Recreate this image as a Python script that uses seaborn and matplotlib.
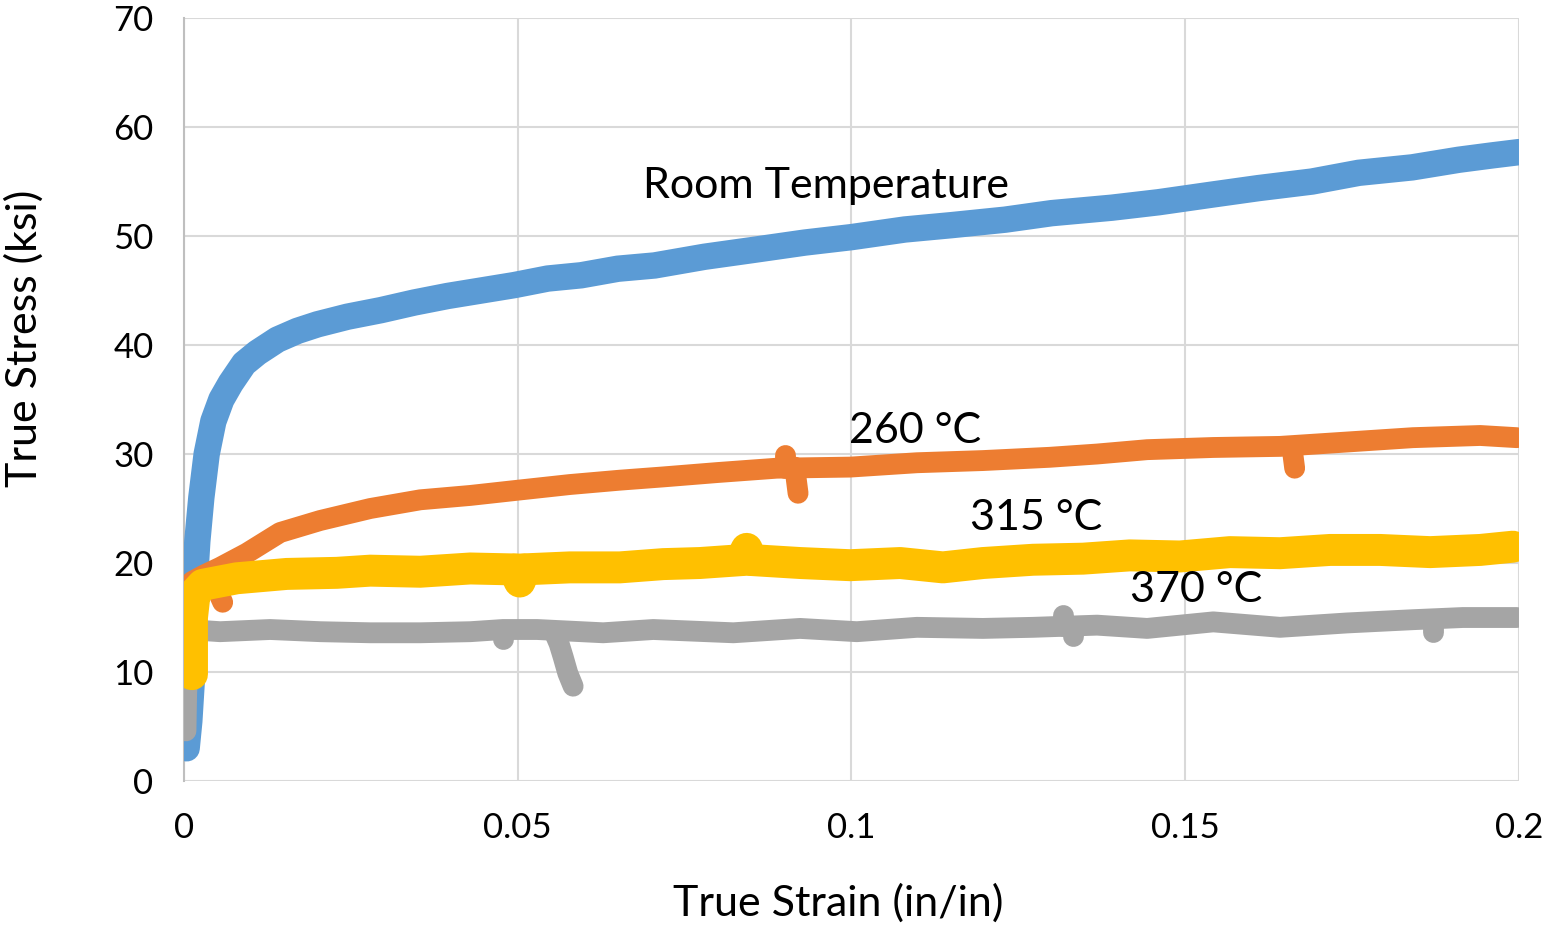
import matplotlib
matplotlib.use("Agg")
import matplotlib.pyplot as plt
import seaborn as sns
import pandas as pd

# ---------------- data ----------------
rt_strain = [0.0004, 0.0008, 0.0012, 0.0014, 0.0016, 0.0020, 0.0026, 0.0034, 0.0044,
             0.0056, 0.0070, 0.0090, 0.0110, 0.0140, 0.0170, 0.0200, 0.0245, 0.0295,
             0.0345, 0.0395, 0.0445, 0.0495, 0.0545, 0.0595, 0.0650, 0.0705, 0.0780,
             0.0850, 0.0930, 0.1000, 0.1080, 0.1150, 0.1230, 0.1300, 0.1390, 0.1460,
             0.1540, 0.1610, 0.1690, 0.1760, 0.1840, 0.1910, 0.1960, 0.2000]
rt_stress = [3.0, 5.5, 9.5, 14.0, 18.0, 22.0, 26.0, 30.0, 33.0,
             35.0, 36.5, 38.3, 39.3, 40.5, 41.3, 41.9, 42.6, 43.2,
             43.9, 44.5, 45.0, 45.5, 46.1, 46.4, 47.0, 47.3, 48.1,
             48.7, 49.4, 49.9, 50.6, 51.0, 51.5, 52.1, 52.6, 53.1,
             53.8, 54.4, 55.0, 55.8, 56.3, 57.0, 57.4, 57.7]

c260_strain = [0.0003, 0.0006, 0.0012, 0.0030, 0.0054, 0.0094, 0.0144, 0.0204, 0.0279,
               0.0354, 0.0429, 0.0503, 0.0578, 0.0653, 0.0718, 0.0799, 0.0888, 0.0998,
               0.1098, 0.1197, 0.1297, 0.1368, 0.1443, 0.1542, 0.1642, 0.1742, 0.1841,
               0.1942, 0.1997]
c260_stress = [12.5, 16.0, 18.3, 18.9, 19.6, 20.9, 22.8, 23.9, 25.0,
               25.8, 26.2, 26.7, 27.2, 27.6, 27.9, 28.3, 28.7, 28.8,
               29.2, 29.4, 29.7, 30.0, 30.4, 30.6, 30.7, 31.1, 31.5,
               31.7, 31.5]
c260_dip_strain = [[0.0040, 0.0050, 0.0058], [0.0900, 0.0900], [0.0915, 0.0920], [0.1660, 0.1664]]
c260_dip_stress = [[18.5, 17.5, 16.4], [28.7, 29.9], [28.8, 26.4], [30.6, 28.7]]

c315_strain = [0.0012, 0.0012, 0.0012, 0.0016, 0.0028, 0.0079, 0.0154, 0.0229, 0.0279,
               0.0354, 0.0429, 0.0503, 0.0578, 0.0653, 0.0718, 0.0773, 0.0843, 0.0923,
               0.0998, 0.1073, 0.1137, 0.1197, 0.1272, 0.1347, 0.1417, 0.1492, 0.1567,
               0.1642, 0.1717, 0.1792, 0.1867, 0.1942, 0.1991]
c315_stress = [9.8, 12.5, 15.0, 17.2, 18.0, 18.6, 19.0, 19.1, 19.3,
               19.2, 19.5, 19.4, 19.6, 19.6, 19.9, 20.0, 20.3, 20.0,
               19.8, 20.0, 19.6, 20.0, 20.3, 20.4, 20.7, 20.6, 21.0,
               20.9, 21.2, 21.2, 21.0, 21.2, 21.5]
c315_dip_strain = [[0.0495, 0.0503, 0.0510], [0.0835, 0.0843, 0.0850]]
c315_dip_stress = [[19.4, 18.3, 19.4], [20.3, 21.3, 20.3]]

c370_strain = [0.0003, 0.0004, 0.0006, 0.0012, 0.0030, 0.0054, 0.0129, 0.0204, 0.0279,
               0.0354, 0.0429, 0.0478, 0.0529, 0.0628, 0.0703, 0.0823, 0.0923, 0.1008,
               0.1098, 0.1197, 0.1272, 0.1368, 0.1443, 0.1542, 0.1642, 0.1742, 0.1841,
               0.1916, 0.1997]
c370_stress = [4.6, 8.0, 11.0, 13.0, 13.8, 13.7, 13.9, 13.7, 13.6,
               13.6, 13.7, 13.9, 13.9, 13.6, 13.9, 13.6, 14.0, 13.7,
               14.1, 14.0, 14.1, 14.3, 14.0, 14.6, 14.1, 14.5, 14.8,
               15.0, 15.0]
c370_dip_strain = [[0.0478, 0.0478], [0.0555, 0.0562, 0.0568, 0.0575, 0.0583],
                   [0.1317, 0.1317], [0.1332, 0.1332], [0.1871, 0.1871]]
c370_dip_stress = [[13.9, 13.0], [13.6, 12.6, 11.4, 9.9, 8.7],
                   [14.2, 15.2], [14.2, 13.3], [14.7, 13.7]]

series_names = ["Room Temperature", "260 °C", "315 °C", "370 °C"]
x_ticks = [0, 0.05, 0.1, 0.15, 0.2]
x_tick_labels = ["0", "0.05", "0.1", "0.15", "0.2"]
y_ticks = [0, 10, 20, 30, 40, 50, 60, 70]

# ---------------- build long tables ----------------
def build(name, xs, ys, dip_x=(), dip_y=()):
    rows = []
    for x, y in zip(xs, ys):
        rows.append((name, 0, x, y))
    for k, (dx, dy) in enumerate(zip(dip_x, dip_y), start=1):
        for x, y in zip(dx, dy):
            rows.append((name, k, x, y))
    return pd.DataFrame(rows, columns=["series", "seg", "strain", "stress"])

frames = {
    "Room Temperature": build("Room Temperature", rt_strain, rt_stress),
    "260 °C": build("260 °C", c260_strain, c260_stress, c260_dip_strain, c260_dip_stress),
    "315 °C": build("315 °C", c315_strain, c315_stress, c315_dip_strain, c315_dip_stress),
    "370 °C": build("370 °C", c370_strain, c370_stress, c370_dip_strain, c370_dip_stress),
}

colors = {"Room Temperature": "#5B9BD5", "260 °C": "#ED7D31",
          "315 °C": "#FFC000", "370 °C": "#A5A5A5"}
widths = {"Room Temperature": 19, "260 °C": 15, "315 °C": 23, "370 °C": 15}
zorders = {"Room Temperature": 3, "260 °C": 4, "370 °C": 5, "315 °C": 6}

# ---------------- plot ----------------
sns.set_theme(style="white")
plt.rcParams["font.family"] = ["Lato", "DejaVu Sans"]
plt.rcParams["text.color"] = "black"
plt.rcParams["axes.labelcolor"] = "black"

fig = plt.figure(figsize=(15.46, 9.30), dpi=100)
ax = fig.add_axes([0.119, 0.1602, 0.8635, 0.8204])

for name in ["Room Temperature", "260 °C", "370 °C", "315 °C"]:
    sns.lineplot(data=frames[name], x="strain", y="stress", units="seg",
                 estimator=None, sort=False, color=colors[name],
                 linewidth=widths[name], solid_capstyle="round",
                 solid_joinstyle="round", zorder=zorders[name], ax=ax,
                 legend=False)

ax.set_xlim(0, 0.2)
ax.set_ylim(0, 70)
ax.set_xticks(x_ticks)
ax.set_xticklabels(x_tick_labels)
ax.set_yticks(y_ticks)
ax.grid(True, color="#D9D9D9", linewidth=1.5, zorder=0)
ax.set_axisbelow(True)
for s in ["top", "right", "bottom"]:
    ax.spines[s].set_visible(False)
ax.spines["left"].set_color("#BFBFBF")
ax.spines["left"].set_linewidth(1.5)
ax.tick_params(axis="both", length=0, labelsize=25, colors="black")
ax.tick_params(axis="x", pad=22)
ax.tick_params(axis="y", pad=22)

ax.set_xlabel("True Strain (in/in)", fontsize=31)
ax.set_ylabel("True Stress (ksi)", fontsize=31)
ax.xaxis.set_label_coords(0.49, -0.134)
ax.yaxis.set_label_coords(-0.105, 0.58)

label_pos = {"Room Temperature": (0.0688, 54.6), "260 °C": (0.0996, 32.1),
             "315 °C": (0.1178, 24.1), "370 °C": (0.1417, 17.5)}
for name, (lx, ly) in label_pos.items():
    ax.text(lx, ly, name, fontsize=31, ha="left", va="center", zorder=10,
            color="black")

fig.savefig("out.png", dpi=100)
